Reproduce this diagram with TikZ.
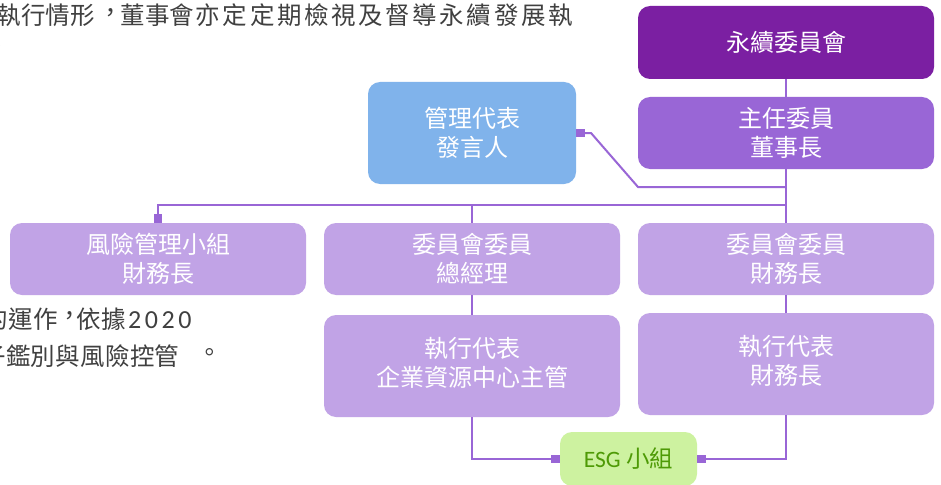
\documentclass[tikz,border=0pt]{standalone}
\usepackage{fontspec}
\setmainfont{Noto Sans CJK TC}
\newfontfamily\cjk{Noto Sans CJK TC}
\newfontfamily\lat{Carlito}
\usetikzlibrary{arrows.meta}
\definecolor{cTop}{HTML}{7B1FA2}
\definecolor{cChair}{HTML}{9966D6}
\definecolor{cLight}{HTML}{C1A3E6}
\definecolor{cBlue}{HTML}{80B3EB}
\definecolor{cGreen}{HTML}{CDF2A0}
\definecolor{cGreenText}{HTML}{4E9A06}
\definecolor{cLine}{HTML}{9966D6}
\definecolor{cGray}{HTML}{404040}
\newcommand\spreadchars[2]{\def\spreadcellw{#1}\spreadstep#2\relax}
\def\spreadstep#1{\ifx#1\relax\else\makebox[\spreadcellw][c]{#1}\expandafter\spreadstep\fi}
% centred full-width punctuation (Taiwan style): shift, lift, glyph
\newcommand\ctrpunct[3]{\makebox[0pt][l]{\hspace{#1}\raisebox{#2}{#3}}\phantom{#3}}
\tikzset{
  orgbox/.style={rounded corners=12pt, inner sep=0pt, align=center, text=white,
    font=\cjk\fontsize{24}{29}\selectfont, minimum width=296pt, minimum height=72pt},
  conn/.style={draw=cLine, line width=2pt},
  sqend/.style={-{Square[length=8.5pt,width=8.5pt]}},
  bgtext/.style={text=cGray, inner sep=0pt, font=\cjk\fontsize{24.5}{30}\selectfont}
}
\begin{document}
\begin{tikzpicture}[x=1pt,y=-1pt]
\useasboundingbox (0,0) rectangle (941,484);
\clip (0,0) rectangle (941,484);
\fill[white] (0,0) rectangle (941,484);

% background text fragments
\node[bgtext, anchor=base west] (t1) at (-4,25)
  {\spreadchars{24.8pt}{執行情形}\makebox[24.8pt][c]{\ctrpunct{0.12em}{0.15em}{，}}\spreadchars{24.8pt}{董事會}\spreadchars{27.1pt}{亦定定期檢視及督導永續發展執}};
\node[bgtext, anchor=center] (t2) at (-3,49) {。};
\node[bgtext, anchor=base west] (t3) at (-17,328)
  {\spreadchars{25pt}{的運作}\makebox[18pt][c]{\ctrpunct{0.12em}{0.15em}{，}}\spreadchars{25pt}{依據}{\lat\fontsize{26}{30}\selectfont\spreadchars{16.8pt}{2020}}};
\node[bgtext, anchor=base west] (t4) at (-19,365)
  {\spreadchars{24.8pt}{子鑑別與風險控管}\hspace{16.2pt}\makebox[24.8pt][c]{\ctrpunct{0.05em}{0.16em}{。}}};

% boxes
\node[orgbox, fill=cTop, minimum height=73pt] (top) at (786,42.5) {永續委員會};
\node[orgbox, fill=cChair] (chair) at (786,133) {主任委員\\董事長};
\node[orgbox, fill=cBlue, minimum width=208pt, minimum height=102pt] (mgmt) at (472,133) {管理代表\\發言人};
\node[orgbox, fill=cLight] (risk) at (158,259) {風險管理小組\\財務長};
\node[orgbox, fill=cLight] (mem1) at (472,259) {委員會委員\\總經理};
\node[orgbox, fill=cLight] (mem2) at (786,259) {委員會委員\\財務長};
\node[orgbox, fill=cLight, minimum height=102pt] (exec1) at (472,366)
  {\raisebox{4pt}{\begin{tabular}{@{}c@{}}執行代表\\企業資源中心主管\end{tabular}}};
\node[orgbox, fill=cLight, minimum height=102pt] (exec2) at (786,364)
  {\raisebox{3pt}{\begin{tabular}{@{}c@{}}執行代表\\財務長\end{tabular}}};
\node[orgbox, fill=cGreen, text=cGreenText, minimum width=137pt, minimum height=54pt,
      font=\fontsize{23.5}{28}\selectfont] (esg) at (628.5,459) {{\lat ESG} {\cjk 小組}};

% junction coordinates
\coordinate (j1) at (786,187);
\coordinate (j2) at (786,205);
\coordinate (k1) at (638,187);
\coordinate (k2) at (591,133);

% connectors
\draw[conn] (top.south) -- (chair.north);
\draw[conn] (chair.south) -- (mem2.north);
\draw[conn, sqend] (j1) -- (k1) -- (k2) -- (mgmt.east);
\draw[conn, sqend] (j2) -| (risk.north);
\draw[conn] (mem1.north |- j2) -- (mem1.north);
\draw[conn] (mem1.south) -- (exec1.north);
\draw[conn] (mem2.south) -- (exec2.north);
\draw[conn, sqend] (exec1.south) |- (esg.west);
\draw[conn, sqend] (exec2.south) |- (esg.east);
\end{tikzpicture}
\end{document}
